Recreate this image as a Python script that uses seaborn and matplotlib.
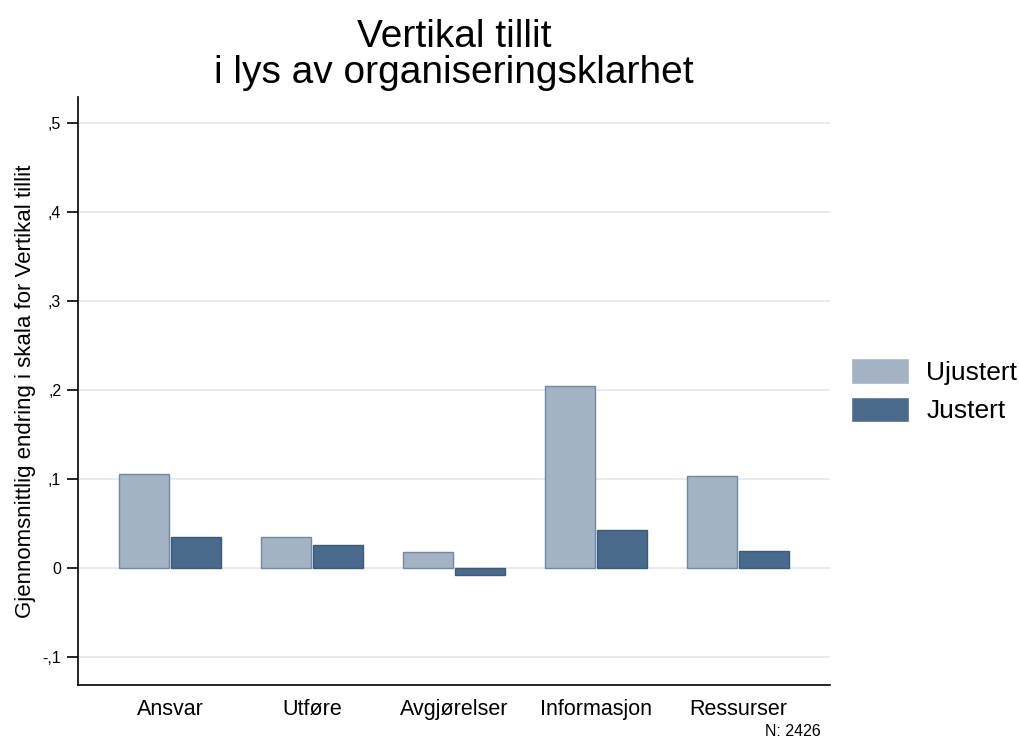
import numpy as np
import pandas as pd
import matplotlib
matplotlib.use("Agg")
import matplotlib.pyplot as plt
import seaborn as sns

# Data
categories = ["Ansvar", "Utføre", "Avgjørelser", "Informasjon", "Ressurser"]
ujustert = [0.105, 0.034, 0.018, 0.205, 0.103]
justert = [0.035, 0.026, -0.008, 0.043, 0.019]
series = ["Ujustert", "Justert"]
yticks = [-0.1, 0, 0.1, 0.2, 0.3, 0.4, 0.5]
ytick_labels = ["-,1", "0", ",1", ",2", ",3", ",4", ",5"]

df = pd.DataFrame({
    "kategori": categories * 2,
    "verdi": ujustert + justert,
    "serie": [series[0]] * len(categories) + [series[1]] * len(categories),
})

sns.set_theme(style="white")
plt.rcParams["font.family"] = ["Liberation Sans", "DejaVu Sans"]
plt.rcParams["text.color"] = "black"
plt.rcParams["axes.labelcolor"] = "black"
plt.rcParams["xtick.color"] = "black"
plt.rcParams["ytick.color"] = "black"

fig = plt.figure(figsize=(10.19, 7.40), dpi=100)
ax = fig.add_axes([0.0765, 0.0743, 0.738, 0.795])

palette = {"Ujustert": "#a3b3c3", "Justert": "#4a6a8b"}
sns.barplot(data=df, x="kategori", y="verdi", hue="serie", palette=palette,
            width=0.73, gap=0.03, saturation=1, ax=ax, zorder=3)

edges = {"Ujustert": "#6f88a3", "Justert": "#3c5a7a"}
for cont, name in zip(ax.containers, series):
    for bar in cont:
        bar.set_edgecolor(edges[name])
        bar.set_linewidth(1.0)

ax.set_ylim(-0.132, 0.53)
ax.set_xlim(-0.648, 4.648)
ax.set_yticks(yticks)
ax.set_yticklabels(ytick_labels, fontsize=11.5)
ax.tick_params(axis="y", left=True, direction="out", length=8, width=1.2, color="black", pad=4)
ax.tick_params(axis="x", bottom=False, length=0, labelsize=15.5, pad=10)
ax.yaxis.grid(True, color="#e6e6e6", linewidth=1.2, zorder=0)
ax.xaxis.grid(False)
for s in ["top", "right"]:
    ax.spines[s].set_visible(False)
for s in ["left", "bottom"]:
    ax.spines[s].set_color("black")
    ax.spines[s].set_linewidth(1.2)

ax.set_xlabel("")
ax.set_ylabel("Gjennomsnittlig endring i skala for Vertikal tillit", fontsize=16, labelpad=5)
ax.set_title("Vertikal tillit\ni lys av organiseringsklarhet", fontsize=28, pad=10, linespacing=1.0)

handles, labels = ax.get_legend_handles_labels()
ax.legend(handles, labels, loc="center left", bbox_to_anchor=(1.028, 0.5), frameon=False,
          fontsize=19, handlelength=2.2, handleheight=1.1, handletextpad=0.65,
          labelspacing=0.45, borderaxespad=0, borderpad=0)

fig.text(0.751, 0.001, "N: 2426", fontsize=11.5, ha="left", va="bottom")

fig.savefig("out.png", dpi=100, facecolor="white")
